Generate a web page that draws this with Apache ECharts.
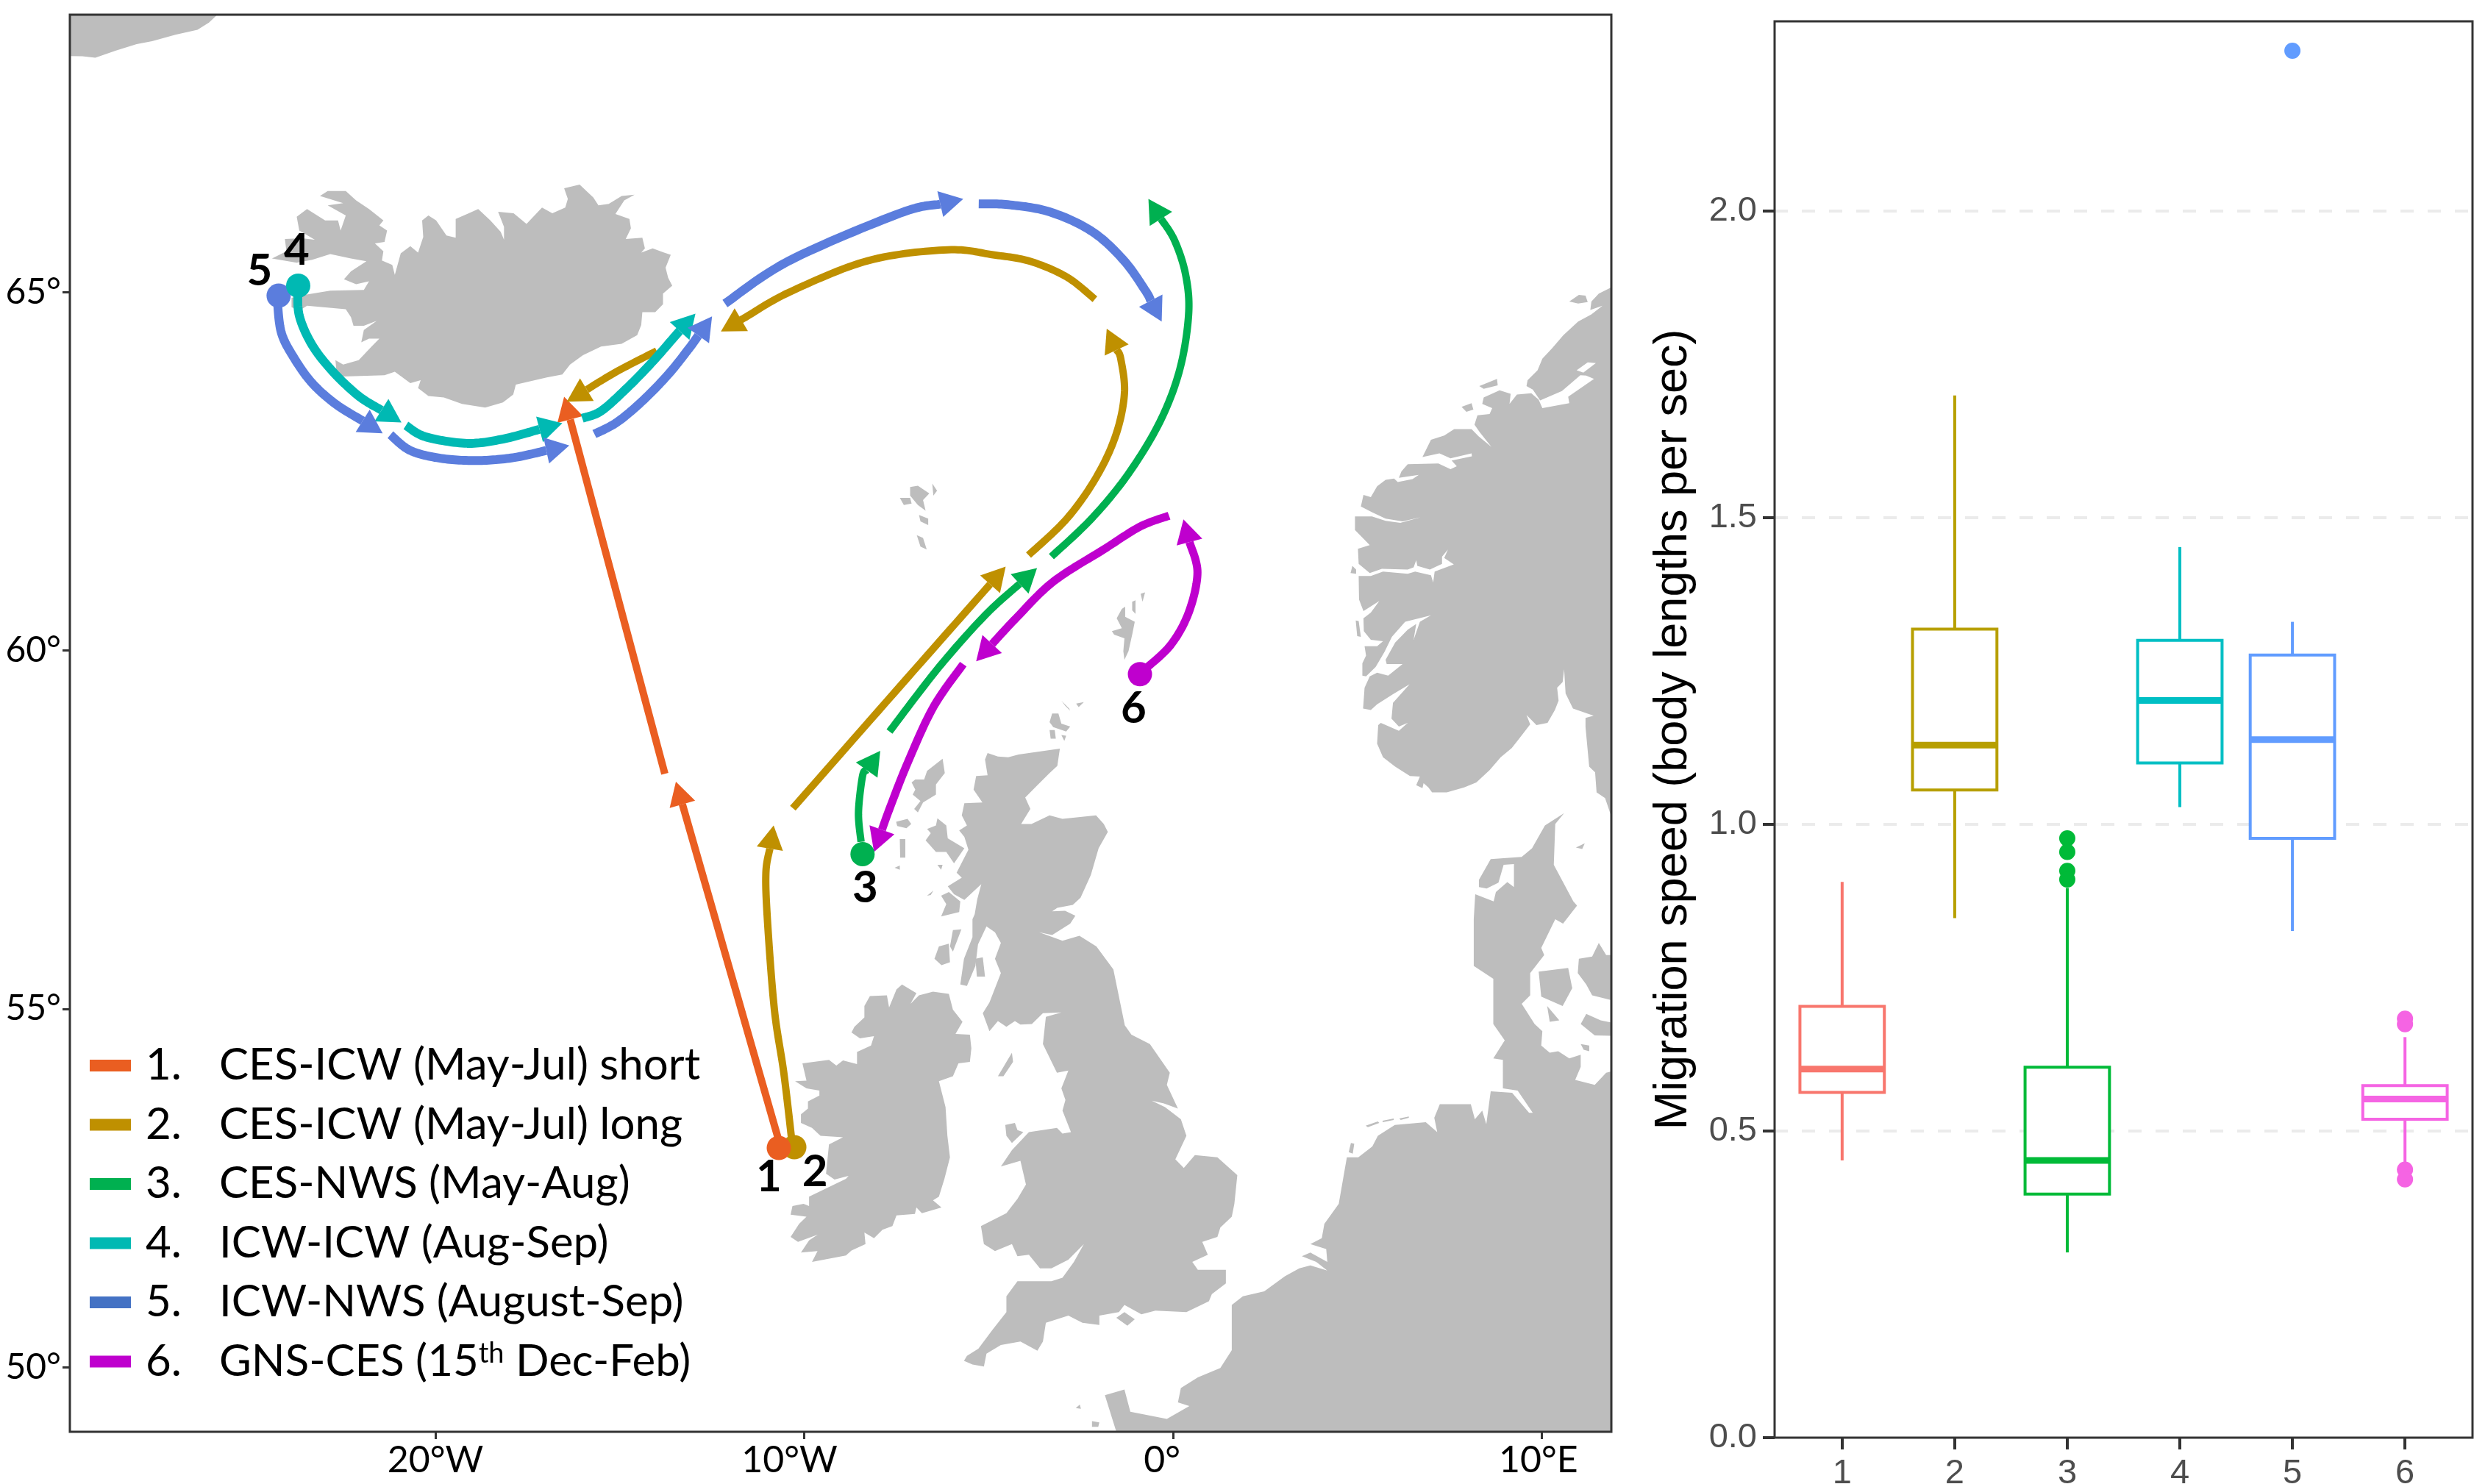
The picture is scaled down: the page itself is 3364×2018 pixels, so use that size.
<!DOCTYPE html>
<html>
<head>
<meta charset="utf-8">
<title>Migration routes and speed</title>
<style>
  html, body { margin: 0; padding: 0; background: #fff; }
  #chart { width: 3364px; height: 2018px; }
</style>
<script src="https://cdn.jsdelivr.net/npm/echarts@6/dist/echarts.min.js"></script>
</head>
<body>
<div id="chart"></div>
<script>
// land outlines, [lon, lat]
const greenland = [[-30.5,68.95],[-25.75,68.95],[-26.14,68.76],[-26.45,68.66],[-27.05,68.59],[-27.68,68.50],[-28.1,68.46],[-28.66,68.37],[-29.22,68.27],[-29.57,68.29],[-30.5,68.30]];
const iceland = [[-23.13,66.34],[-22.92,66.41],[-22.43,66.41],[-22.15,66.28],[-21.80,66.16],[-21.41,66.0],[-21.52,65.93],[-21.31,65.86],[-21.38,65.70],[-21.64,65.68],[-21.41,65.57],[-21.45,65.44],[-21.17,65.38],[-21.10,65.24],[-20.94,65.54],[-20.68,65.64],[-20.47,65.55],[-20.33,65.77],[-20.36,66.0],[-20.19,66.07],[-19.98,66.0],[-19.70,65.79],[-19.45,65.76],[-19.45,66.02],[-19.14,66.09],[-18.84,66.16],[-18.51,66.0],[-18.23,65.84],[-18.14,65.73],[-18.14,65.91],[-18.30,66.12],[-17.88,66.10],[-17.53,65.95],[-17.11,66.18],[-16.83,66.10],[-16.48,66.18],[-16.41,66.30],[-16.51,66.45],[-16.09,66.50],[-15.72,66.32],[-15.58,66.21],[-15.30,66.23],[-14.95,66.34],[-14.60,66.36],[-14.88,66.28],[-15.12,66.09],[-14.74,66.02],[-14.70,65.89],[-14.84,65.74],[-14.39,65.76],[-14.32,65.61],[-14.42,65.55],[-14.11,65.61],[-13.80,65.55],[-13.62,65.52],[-13.76,65.34],[-13.69,65.20],[-13.58,65.09],[-13.83,64.98],[-13.83,64.83],[-14.04,64.72],[-14.39,64.72],[-14.42,64.54],[-14.53,64.40],[-14.95,64.28],[-15.51,64.24],[-16.0,64.12],[-16.35,63.99],[-16.56,63.85],[-16.98,63.81],[-17.82,63.71],[-17.89,63.57],[-18.17,63.46],[-18.65,63.39],[-19.28,63.44],[-19.77,63.53],[-20.19,63.55],[-20.47,63.66],[-20.40,63.77],[-20.68,63.73],[-21.10,63.89],[-21.38,63.84],[-22.67,63.82],[-22.71,64.05],[-22.50,63.99],[-22.08,64.05],[-21.73,64.24],[-21.52,64.35],[-21.80,64.35],[-22.01,64.30],[-21.94,64.47],[-21.59,64.60],[-21.94,64.53],[-22.22,64.53],[-22.29,64.65],[-22.43,64.76],[-23.48,64.81],[-23.69,64.74],[-23.90,64.79],[-23.90,64.92],[-23.55,64.96],[-22.85,65.02],[-21.94,65.03],[-21.80,65.15],[-22.15,65.11],[-22.48,65.18],[-22.29,65.29],[-21.87,65.43],[-22.29,65.47],[-22.85,65.53],[-23.34,65.45],[-23.76,65.41],[-24.43,65.47],[-24.04,65.57],[-24.08,65.74],[-23.62,65.75],[-23.27,65.73],[-23.69,65.86],[-23.76,66.05],[-23.48,66.16],[-22.99,66.0],[-22.64,66.0],[-22.57,65.86],[-22.43,66.07],[-22.92,66.21],[-22.50,66.24]];
const norway = [[12.5,65.2],[11.89,65.07],[11.54,64.98],[11.34,64.87],[11.31,64.75],[11.64,64.81],[11.34,64.69],[10.98,64.59],[10.58,64.40],[10.28,64.22],[10.01,64.07],[9.88,63.91],[9.61,63.77],[9.58,63.69],[9.75,63.64],[9.95,63.49],[10.54,63.62],[11.04,63.84],[11.38,63.83],[10.94,63.91],[11.24,64.02],[11.46,64.01],[11.08,63.86],[11.41,63.79],[10.71,63.54],[10.74,63.45],[10.01,63.38],[9.91,63.50],[9.71,63.59],[9.32,63.57],[9.12,63.44],[9.15,63.58],[8.85,63.63],[8.42,63.53],[8.38,63.44],[8.65,63.38],[8.58,63.30],[8.25,63.28],[8.17,63.15],[8.32,63.04],[8.63,62.84],[8.28,62.99],[8.09,63.09],[7.62,63.09],[7.35,63.0],[6.99,62.94],[6.76,62.70],[7.22,62.75],[7.52,62.68],[8.09,62.75],[8.10,62.71],[7.55,62.65],[7.69,62.57],[7.52,62.53],[7.19,62.61],[6.36,62.60],[6.19,62.50],[6.12,62.41],[6.66,62.45],[6.49,62.39],[6.09,62.35],[5.99,62.40],[5.76,62.38],[5.53,62.29],[5.36,62.14],[5.16,62.17],[5.09,62.01],[5.39,61.93],[5.76,61.84],[6.22,61.80],[6.72,61.86],[6.16,61.78],[5.76,61.81],[5.39,61.87],[4.93,61.87],[4.93,61.68],[5.16,61.56],[5.33,61.47],[5.01,61.42],[5.03,61.21],[5.33,61.08],[5.66,61.14],[6.36,61.13],[6.52,61.16],[6.59,61.26],[6.62,61.18],[6.96,61.13],[7.29,61.21],[7.29,61.31],[7.45,61.41],[7.35,61.29],[7.61,61.20],[7.09,61.10],[7.05,60.95],[6.99,61.05],[6.56,61.10],[6.36,61.07],[5.69,61.10],[5.36,61.04],[5.03,61.04],[5.04,60.71],[5.16,60.55],[5.59,60.69],[5.36,60.53],[5.16,60.45],[5.17,60.27],[5.36,60.15],[5.69,60.13],[5.53,60.06],[5.19,60.06],[5.23,59.93],[5.13,59.82],[5.13,59.65],[5.23,59.64],[5.49,59.77],[5.73,59.98],[5.93,60.19],[6.29,60.40],[6.99,60.49],[6.69,60.40],[6.52,60.15],[6.59,60.37],[6.36,60.29],[6.02,60.11],[5.76,59.87],[5.79,59.81],[6.22,59.81],[5.83,59.65],[5.53,59.69],[5.33,59.64],[5.19,59.48],[5.15,59.19],[5.36,59.17],[5.53,59.25],[5.96,59.39],[6.41,59.53],[5.96,59.27],[5.92,59.05],[6.12,58.94],[6.36,58.99],[6.12,58.88],[5.63,58.99],[5.56,58.96],[5.53,58.70],[5.69,58.51],[6.02,58.38],[6.42,58.25],[6.69,58.24],[6.59,58.12],[6.76,58.08],[6.79,58.15],[6.92,58.09],[7.02,58.02],[7.42,58.02],[7.89,58.09],[8.22,58.16],[8.58,58.33],[8.88,58.51],[9.18,58.64],[9.38,58.77],[9.68,58.97],[9.58,59.10],[9.85,58.96],[10.15,58.99],[10.35,59.17],[10.45,59.30],[10.41,59.48],[10.56,59.56],[10.60,59.74],[10.64,59.40],[10.84,59.19],[11.40,59.09],[11.18,59.06],[11.18,58.93],[11.28,58.38],[11.44,58.30],[11.48,58.02],[11.71,57.94],[11.87,57.70],[12.5,57.5]];
const norwayIslands = [
  [[10.74,64.87],[11.0,64.96],[11.18,64.95],[11.24,64.86],[10.98,64.84]],
  [[8.30,63.69],[8.78,63.79],[8.80,63.70],[8.42,63.65]],
  [[7.82,63.40],[8.09,63.45],[8.14,63.36],[7.95,63.33]],
  [[4.81,61.08],[4.86,61.18],[4.96,61.13],[4.96,61.07]],
  [[4.95,60.42],[5.03,60.41],[5.09,60.19],[4.99,60.20]]
];
const continent = [[-1.54,48.9],[-1.54,49.10],[-1.85,49.61],[-1.32,49.69],[-1.16,49.38],[-0.17,49.28],[0.44,49.46],[0.13,49.51],[0.21,49.71],[0.67,49.86],[1.28,49.99],[1.59,50.24],[1.59,50.87],[1.89,50.99],[2.47,51.06],[3.03,51.27],[3.42,51.38],[3.72,51.42],[4.18,51.35],[3.88,51.47],[3.49,51.55],[3.72,51.60],[4.18,51.47],[4.15,51.65],[3.72,51.72],[4.03,51.80],[4.10,52.0],[4.49,52.28],[4.71,52.93],[5.02,52.93],[5.40,53.08],[5.55,53.23],[6.01,53.38],[6.85,53.42],[7.16,53.28],[7.08,53.48],[7.23,53.67],[8.07,53.67],[8.18,53.46],[8.38,53.58],[8.49,53.39],[8.61,53.85],[9.19,53.83],[9.65,53.55],[9.75,53.55],[9.34,53.86],[8.94,53.89],[8.94,54.29],[8.68,54.31],[8.99,54.56],[8.68,54.79],[8.68,55.42],[8.15,55.60],[8.15,56.25],[8.19,56.60],[8.69,56.50],[8.75,56.63],[9.06,56.77],[9.24,56.70],[9.24,57.02],[8.96,57.01],[8.82,56.76],[8.50,56.68],[8.29,56.70],[8.29,56.80],[8.61,57.09],[9.45,57.12],[9.73,57.24],[10.08,57.56],[10.60,57.73],[10.36,57.58],[10.32,57.01],[10.85,56.50],[10.95,56.44],[10.57,56.19],[10.36,56.25],[9.98,55.85],[10.06,55.75],[9.68,55.50],[9.68,55.19],[9.45,55.07],[9.80,54.79],[10.01,54.69],[9.98,54.49],[10.21,54.39],[10.44,54.41],[10.74,54.31],[11.05,54.36],[11.05,54.19],[10.90,54.01],[11.43,53.94],[11.74,54.11],[12.5,54.2],[12.5,48.9]];
const balticIslands = [
  [[9.91,55.52],[10.71,55.57],[10.82,55.29],[10.56,55.04],[9.98,55.17]],
  [[11.0,55.70],[11.36,55.73],[11.54,55.92],[11.74,55.75],[12.5,55.75],[12.5,55.04],[11.36,55.19],[11.2,55.34],[10.97,55.50]],
  [[11.05,54.79],[11.2,54.93],[11.59,54.84],[12.5,54.74],[12.5,54.62],[11.43,54.63]],
  [[11.05,54.51],[11.28,54.49],[11.28,54.41],[11.13,54.43]],
  [[10.14,55.04],[10.47,54.84],[10.21,54.82]],
  [[10.92,57.25],[11.16,57.31],[11.09,57.23]]
];
const frisianIslands = [
  [[5.22,53.37],[5.55,53.43],[5.59,53.41],[5.28,53.35]],
  [[5.68,53.44],[5.98,53.47],[5.98,53.45],[5.68,53.42]],
  [[6.13,53.47],[6.39,53.50],[6.39,53.48],[6.17,53.45]],
  [[4.76,53.0],[4.82,53.13],[4.91,53.12],[4.87,52.98]]
];
const britain = [[-5.03,58.57],[-4.75,58.52],[-4.47,58.51],[-4.19,58.55],[-3.07,58.63],[-3.14,58.39],[-3.35,58.29],[-3.70,58.11],[-4.01,57.95],[-3.87,57.79],[-4.12,57.58],[-3.84,57.58],[-3.35,57.70],[-3.0,57.65],[-2.09,57.70],[-1.88,57.58],[-1.77,57.47],[-2.02,57.24],[-2.23,56.87],[-2.51,56.55],[-2.72,56.45],[-3.14,56.41],[-3.28,56.36],[-2.93,56.37],[-2.65,56.30],[-2.79,56.19],[-3.28,56.03],[-3.63,56.07],[-3.0,55.95],[-2.54,56.02],[-2.08,55.87],[-1.62,55.55],[-1.31,54.77],[-1.13,54.64],[-0.63,54.51],[-0.09,54.11],[-0.17,53.94],[0.13,53.61],[-0.25,53.68],[-0.58,53.72],[-0.22,53.63],[0.21,53.46],[0.36,53.23],[0.06,52.90],[0.29,52.78],[0.59,52.96],[1.20,52.93],[1.74,52.68],[1.66,52.28],[1.59,52.10],[1.28,51.95],[1.20,51.82],[0.79,51.75],[0.94,51.57],[0.52,51.47],[0.67,51.36],[1.43,51.36],[1.43,51.17],[1.05,51.02],[0.97,50.92],[0.36,50.77],[-0.48,50.79],[-0.86,50.74],[-1.32,50.87],[-1.47,50.77],[-2.0,50.72],[-2.0,50.59],[-2.46,50.62],[-2.84,50.72],[-3.45,50.62],[-3.53,50.36],[-3.68,50.23],[-4.14,50.36],[-4.67,50.31],[-5.06,50.19],[-5.13,50.01],[-5.44,50.04],[-5.67,50.09],[-5.59,50.16],[-5.28,50.26],[-4.90,50.52],[-4.52,50.77],[-4.52,50.99],[-4.22,51.20],[-3.30,51.20],[-3.0,51.25],[-2.69,51.47],[-2.42,51.72],[-2.84,51.50],[-3.30,51.38],[-3.61,51.38],[-3.91,51.57],[-4.22,51.55],[-4.37,51.72],[-4.83,51.62],[-5.13,51.72],[-5.21,51.97],[-4.52,52.15],[-4.22,52.35],[-3.99,52.55],[-4.14,52.88],[-4.67,52.80],[-4.37,53.03],[-3.91,53.28],[-3.15,53.34],[-3.0,53.26],[-2.77,53.28],[-3.0,53.58],[-2.92,53.73],[-3.03,53.89],[-2.84,54.14],[-3.15,54.11],[-3.53,54.51],[-3.45,54.89],[-3.03,54.95],[-3.53,54.94],[-3.83,54.79],[-4.14,54.78],[-4.29,54.83],[-4.52,54.75],[-4.75,54.83],[-4.98,54.69],[-5.16,54.94],[-4.98,55.09],[-4.67,55.50],[-4.83,55.70],[-4.67,55.92],[-4.83,56.07],[-5.06,56.15],[-5.29,55.90],[-5.36,55.60],[-5.59,55.32],[-5.77,55.34],[-5.67,55.70],[-5.44,56.0],[-5.44,56.25],[-5.38,56.32],[-5.31,56.53],[-5.20,56.74],[-5.66,56.52],[-5.94,56.60],[-6.11,56.71],[-5.73,56.83],[-5.87,56.90],[-5.55,57.22],[-5.66,57.40],[-5.80,57.49],[-5.59,57.56],[-5.73,57.70],[-5.66,57.87],[-5.17,57.88],[-5.41,58.06],[-5.34,58.25],[-5.03,58.26],[-5.10,58.48]];
const ireland = [[-7.35,55.34],[-6.96,55.22],[-7.12,55.07],[-6.89,55.19],[-6.51,55.24],[-6.08,55.21],[-5.97,54.99],[-5.71,54.82],[-5.90,54.65],[-5.51,54.64],[-5.47,54.45],[-5.51,54.26],[-5.82,54.24],[-5.97,54.06],[-6.35,53.99],[-6.17,53.63],[-6.12,53.23],[-6.05,52.93],[-6.20,52.63],[-6.35,52.38],[-6.51,52.33],[-6.28,52.23],[-6.81,52.15],[-6.96,52.23],[-7.0,52.14],[-7.50,52.12],[-7.61,51.97],[-7.88,51.92],[-8.11,51.80],[-8.37,51.88],[-8.34,51.72],[-8.72,51.63],[-8.87,51.56],[-9.79,51.47],[-9.64,51.62],[-10.09,51.60],[-9.87,51.77],[-9.64,51.85],[-10.17,51.75],[-10.37,51.82],[-10.14,52.0],[-9.94,52.10],[-10.37,52.13],[-10.32,52.25],[-10.02,52.28],[-9.87,52.25],[-9.87,52.38],[-8.87,52.63],[-8.80,52.67],[-9.18,52.62],[-9.41,52.70],[-9.33,53.11],[-8.95,53.21],[-9.56,53.23],[-9.79,53.34],[-10.09,53.41],[-10.09,53.53],[-9.90,53.61],[-9.90,53.71],[-9.59,53.79],[-9.59,53.86],[-9.94,53.89],[-10.25,53.99],[-9.94,54.0],[-10.05,54.24],[-9.33,54.29],[-9.13,54.21],[-8.95,54.28],[-8.57,54.23],[-8.57,54.40],[-8.19,54.49],[-8.11,54.62],[-8.49,54.59],[-8.72,54.67],[-8.64,54.75],[-8.37,54.88],[-8.37,55.04],[-8.22,55.18],[-7.76,55.19],[-7.70,55.02],[-7.50,55.27]];
const hebrides = [
  [[-6.25,58.49],[-6.19,58.29],[-6.43,58.13],[-6.43,57.99],[-6.78,57.88],[-6.92,57.74],[-7.02,57.79],[-6.85,57.90],[-7.06,57.99],[-6.99,58.06],[-7.09,58.16],[-6.99,58.20],[-6.75,58.20],[-6.67,58.32]],
  [[-6.39,57.66],[-6.15,57.56],[-6.11,57.38],[-5.66,57.24],[-5.94,57.03],[-6.15,57.19],[-6.43,57.19],[-6.71,57.35],[-6.57,57.45],[-6.67,57.51],[-6.43,57.56]],
  [[-7.51,57.61],[-7.20,57.65],[-7.10,57.58],[-7.23,57.52],[-7.48,57.55]],
  [[-7.41,57.37],[-7.26,57.37],[-7.26,57.11],[-7.40,57.11]],
  [[-7.55,56.97],[-7.41,57.0],[-7.41,56.94]],
  [[-6.39,57.01],[-6.25,57.01],[-6.29,56.94]],
  [[-6.29,56.58],[-6.08,56.63],[-5.77,56.50],[-5.80,56.35],[-6.29,56.29],[-6.15,56.46]],
  [[-6.67,56.58],[-6.50,56.65],[-6.57,56.59]],
  [[-6.47,55.70],[-6.35,55.87],[-6.08,55.91],[-6.05,55.65],[-6.28,55.61]],
  [[-5.97,56.10],[-5.74,56.11],[-5.97,55.80],[-6.05,55.87]],
  [[-5.36,55.70],[-5.16,55.72],[-5.10,55.45],[-5.32,55.45]]
];
const northernIsles = [
  [[-3.35,59.0],[-3.28,59.12],[-3.11,59.12],[-3.03,58.98],[-2.79,58.94],[-2.90,58.87],[-3.25,58.93]],
  [[-3.35,58.89],[-3.21,58.89],[-3.18,58.77],[-3.32,58.77]],
  [[-3.03,58.82],[-2.90,58.81],[-2.95,58.74]],
  [[-3.03,59.30],[-2.82,59.19],[-2.79,59.16],[-2.93,59.23]],
  [[-2.63,59.26],[-2.42,59.28],[-2.56,59.21]],
  [[-1.39,60.58],[-1.30,60.61],[-1.30,60.47],[-1.04,60.40],[-1.11,60.22],[-1.21,59.99],[-1.32,59.87],[-1.35,59.99],[-1.32,60.17],[-1.60,60.22],[-1.66,60.27],[-1.39,60.31],[-1.53,60.45]],
  [[-1.11,60.68],[-1.02,60.70],[-1.02,60.51],[-1.11,60.56]],
  [[-0.88,60.79],[-0.76,60.81],[-0.83,60.68]]
];
const faroes = [
  [[-7.13,62.28],[-6.92,62.30],[-6.61,62.19],[-6.78,62.10],[-6.71,61.95],[-6.92,62.03],[-7.13,62.16]],
  [[-6.53,62.33],[-6.40,62.23],[-6.50,62.16]],
  [[-7.41,62.13],[-7.13,62.13],[-7.09,62.05],[-7.30,62.03]],
  [[-6.89,61.89],[-6.64,61.84],[-6.64,61.75],[-6.85,61.80]],
  [[-6.95,61.61],[-6.78,61.57],[-6.68,61.41],[-6.85,61.45]]
];
const smallIslands = [
  [[-4.75,54.06],[-4.37,54.39],[-4.34,54.26],[-4.60,54.06]],
  [[-4.55,53.38],[-4.29,53.41],[-4.22,53.31],[-4.06,53.28],[-4.37,53.13],[-4.52,53.23]],
  [[-1.54,50.69],[-1.32,50.77],[-1.04,50.67],[-1.24,50.58]],
  [[-2.64,49.43],[-2.53,49.48],[-2.50,49.42]],
  [[-2.2,49.25],[-2.0,49.23],[-2.03,49.17],[-2.2,49.17]]
];

// migration routes, each leg ends at its arrow tip, [lon, lat]
const route1 = [
  [[-10.70,53.18],[-13.48,58.17]],
  [[-13.78,58.28],[-16.51,63.54]]
];
const route2 = [
  [[-10.32,53.08],[-10.55,54.09],[-10.81,54.99],[-11.0,56.25],[-11.04,56.9],[-10.83,57.56]],
  [[-10.31,57.80],[-7.2,59.62],[-4.54,61.17]],
  [[-3.92,61.33],[-2.88,61.84],[-2.08,62.42],[-1.55,63.01],[-1.32,63.59],[-1.42,64.07],[-1.80,64.49]],
  [[-2.12,64.90],[-2.88,65.21],[-3.88,65.43],[-4.88,65.52],[-6.12,65.59],[-8.26,65.44],[-10.40,65.0],[-11.59,64.65],[-12.26,64.45]],
  [[-14.0,64.18],[-15.09,63.89],[-16.44,63.47]]
];
const route3 = [
  [[-8.46,57.33],[-8.53,57.74],[-8.42,58.25],[-7.94,58.60]],
  [[-7.69,58.87],[-6.36,59.76],[-5.10,60.49],[-4.26,60.93],[-3.69,61.15]],
  [[-3.30,61.31],[-2.21,61.84],[-1.22,62.46],[-0.36,63.19],[0.18,63.92],[0.42,64.69],[0.34,65.24],[0.04,65.72],[-0.67,66.30]]
];
const route4 = [
  [[-23.73,65.04],[-23.69,64.67],[-23.34,64.26],[-22.78,63.89],[-22.08,63.55],[-21.38,63.29],[-20.92,63.18]],
  [[-20.80,63.14],[-20.26,62.98],[-19.14,62.89],[-18.17,62.95],[-17.26,63.05],[-16.56,63.17]],
  [[-16.02,63.24],[-15.51,63.34],[-14.81,63.66],[-14.11,64.03],[-13.48,64.40],[-12.95,64.70]]
];
const route5 = [
  [[-24.29,64.92],[-24.18,64.44],[-23.83,64.08],[-23.34,63.73],[-22.71,63.44],[-22.08,63.21],[-21.43,63.03]],
  [[-21.22,63.01],[-20.68,62.79],[-19.84,62.68],[-18.86,62.65],[-17.89,62.69],[-16.91,62.77],[-16.37,62.86]],
  [[-15.69,63.02],[-15.09,63.18],[-14.39,63.48],[-13.69,63.85],[-13.13,64.21],[-12.50,64.66]],
  [[-12.15,64.84],[-10.40,65.44],[-7.41,66.1],[-5.69,66.30]],
  [[-5.27,66.23],[-4.48,66.22],[-3.35,66.12],[-2.21,65.85],[-1.35,65.45],[-0.75,65.02],[-0.31,64.59]]
];
const route6 = [
  [[-0.76,59.74],[-0.06,60.08],[0.43,60.54],[0.66,61.09],[0.57,61.50],[0.28,61.83]],
  [[-0.11,61.88],[-0.89,61.73],[-1.88,61.41],[-3.25,60.96],[-4.26,60.45],[-5.34,59.85]],
  [[-5.69,59.81],[-6.50,59.21],[-7.20,58.43],[-7.69,57.79],[-8.11,57.19]]
];

const routeNames = ['CES-ICW (May-Jul) short', 'CES-ICW (May-Jul) long', 'CES-NWS (May-Aug)', 'ICW-ICW (Aug-Sep)', 'ICW-NWS (August-Sep)', 'GNS-CES (15th Dec-Feb)'];
const routeLegs = [route1, route2, route3, route4, route5, route6];
const routeColors = ['#EA5E21', '#BF9000', '#00B050', '#00B9B3', '#5B7DDD', '#BF00CE'];
const routeWidths = [10, 10, 10, 12, 12, 11];
const legendColors = ['#EA5E21', '#BF9000', '#00B050', '#00B9B3', '#4472C4', '#BF00CE'];

// start points, drawn in this order
const startNames = ['2', '1', '5', '4', '3', '6'];
const startPoints = [[-10.27,53.07], [-10.69,53.06], [-24.25,64.95], [-23.72,65.09], [-8.42,57.16], [-0.90,59.67]];
const startColors = ['#BF9000', '#EA5E21', '#5B7DDD', '#00B9B3', '#00B050', '#BF00CE'];
const labelPoints = [[-9.71,52.73], [-10.96,52.65], [-24.77,65.29], [-23.76,65.58], [-8.35,56.69], [-1.07,59.19]];

const lonTicks = [-20, -10, 0, 10];
const latTicks = [50, 55, 60, 65];

// box plot
const speedCategories = [1, 2, 3, 4, 5, 6];
const speedLow = [0.452, 0.847, 0.302, 1.028, 0.826, 0.445];
const speedQ1 = [0.563, 1.056, 0.397, 1.100, 0.977, 0.519];
const speedMedian = [0.601, 1.129, 0.452, 1.202, 1.138, 0.552];
const speedQ3 = [0.703, 1.318, 0.604, 1.300, 1.276, 0.574];
const speedHigh = [0.906, 1.699, 0.896, 1.452, 1.330, 0.653];
const speedOutliers = [[3,0.977],[3,0.955],[3,0.924],[3,0.910],[5,2.261],[6,0.683],[6,0.674],[6,0.437],[6,0.421]];
const speedColors = ['#F8766D', '#B79F00', '#00BA38', '#00BFC4', '#619CFF', '#F564E3'];
const speedTicks = [0, 0.5, 1, 1.5, 2];

const landPolygons = [greenland, iceland, norway, continent, britain, ireland]
  .concat(norwayIslands, balticIslands, frisianIslands, hebrides, northernIsles, faroes, smallIslands);

const chart = echarts.init(document.getElementById('chart'), null, { renderer: 'canvas' });

function renderLand(params, api) {
  const poly = landPolygons[params.dataIndex];
  return {
    type: 'polygon',
    shape: { points: poly.map(p => api.coord(p)) },
    style: { fill: '#BDBDBD' }
  };
}

// curve through the pixel waypoints of a leg
function spline(pts) {
  const out = [];
  for (let i = 0; i < pts.length - 1; i++) {
    const p0 = pts[Math.max(i - 1, 0)], p1 = pts[i], p2 = pts[i + 1], p3 = pts[Math.min(i + 2, pts.length - 1)];
    for (let k = 0; k < 16; k++) {
      const t = k / 16, t2 = t * t, t3 = t2 * t;
      out.push([0, 1].map(d => 0.5 * (2 * p1[d] + (p2[d] - p0[d]) * t + (2 * p0[d] - 5 * p1[d] + 4 * p2[d] - p3[d]) * t2 + (3 * p1[d] - p0[d] - 3 * p2[d] + p3[d]) * t3)));
    }
  }
  out.push(pts[pts.length - 1]);
  return out;
}

function routeRenderer(legs, color, width) {
  const headLen = 32, headHalf = 18;
  return function (params, api) {
    const pts = legs[params.dataIndex].map(p => api.coord(p));
    const tip = pts[pts.length - 1];
    // waypoints too close to the tip would end up inside the head
    const body = pts.slice(0, -1).filter((p, i) => i === 0 || Math.hypot(p[0] - tip[0], p[1] - tip[1]) > headLen * 1.2);
    const prev = body[body.length - 1];
    const len = Math.hypot(tip[0] - prev[0], tip[1] - prev[1]);
    const ux = (tip[0] - prev[0]) / len, uy = (tip[1] - prev[1]) / len;
    const bx = tip[0] - ux * headLen, by = tip[1] - uy * headLen;
    return {
      type: 'group',
      children: [
        {
          type: 'polyline',
          shape: { points: spline(body.concat([[bx, by]])) },
          style: { stroke: color, lineWidth: width, fill: null, lineJoin: 'round' }
        },
        {
          type: 'polygon',
          shape: { points: [tip, [bx - uy * headHalf, by + ux * headHalf], [bx + uy * headHalf, by - ux * headHalf]] },
          style: { fill: color }
        }
      ]
    };
  };
}

function renderBox(params, api) {
  const i = params.dataIndex;
  const x = speedCategories[i];
  const color = speedColors[i];
  const w = api.size([0.75, 0])[0];
  const cx = api.coord([x, 0])[0];
  const y = v => api.coord([x, v])[1];
  const line = (x1, y1, x2, y2, lw) => ({
    type: 'line',
    shape: { x1: x1, y1: y1, x2: x2, y2: y2 },
    style: { stroke: color, lineWidth: lw }
  });
  return {
    type: 'group',
    children: [
      line(cx, y(speedHigh[i]), cx, y(speedQ3[i]), 4),
      line(cx, y(speedQ1[i]), cx, y(speedLow[i]), 4),
      {
        type: 'rect',
        shape: { x: cx - w / 2, y: y(speedQ3[i]), width: w, height: y(speedQ1[i]) - y(speedQ3[i]) },
        style: { fill: '#fff', stroke: color, lineWidth: 4 }
      },
      line(cx - w / 2, y(speedMedian[i]), cx + w / 2, y(speedMedian[i]), 9)
    ]
  };
}

const lonLabel = v => {
  if (v === 0) return '{b|0°}';
  if (v === -10) return '{a|10°W}';
  if (v === 10) return '{c|10°E}';
  return '{d|20°W}';
};

const mapFont = 'Lato';
const mapLabel = { fontFamily: mapFont, fontSize: 50, color: '#000' };

const routeSeries = routeNames.map((name, r) => ({
  type: 'custom',
  name: name,
  xAxisIndex: 0,
  yAxisIndex: 0,
  clip: true,
  z: 5,
  itemStyle: { color: legendColors[r] },
  data: routeLegs[r].map((leg, i) => [i]),
  renderItem: routeRenderer(routeLegs[r], routeColors[r], routeWidths[r])
}));

chart.setOption({
  animation: false,
  backgroundColor: '#fff',
  grid: [
    { left: 95, top: 20, width: 2096, height: 1927, outerBoundsMode: 'none', show: true, borderColor: '#333', borderWidth: 3, backgroundColor: 'transparent', z: 4 },
    { left: 2413, top: 29, width: 949, height: 1926, outerBoundsMode: 'none', show: true, borderColor: '#333', borderWidth: 3, backgroundColor: 'transparent', z: 4 }
  ],
  xAxis: [
    {
      type: 'value', gridIndex: 0, min: -29.91, max: 11.88,
      splitLine: { show: false },
      axisLine: { show: false, onZero: false },
      axisTick: { show: true, length: 10, lineStyle: { color: '#333', width: 3 }, customValues: lonTicks },
      axisLabel: {
        customValues: lonTicks, margin: 14, formatter: lonLabel, ...mapLabel,
        rich: {
          a: { ...mapLabel, padding: [0, 40, 0, 0] },
          b: { ...mapLabel, padding: [0, 30, 0, 0] },
          c: { ...mapLabel, padding: [0, 10, 0, 0] },
          d: { ...mapLabel }
        }
      }
    },
    {
      type: 'value', gridIndex: 1, min: 0.4, max: 6.6,
      splitLine: { show: false },
      axisLine: { show: false, onZero: false },
      axisTick: { show: true, length: 16, lineStyle: { color: '#333', width: 4 }, customValues: speedCategories },
      axisLabel: { customValues: speedCategories, margin: 26, fontFamily: 'Liberation Sans', fontSize: 47, color: '#4D4D4D' }
    }
  ],
  yAxis: [
    {
      type: 'value', gridIndex: 0, min: 49.10, max: 68.87,
      splitLine: { show: false },
      axisLine: { show: false, onZero: false },
      axisTick: { show: true, length: 10, lineStyle: { color: '#333', width: 3 }, customValues: latTicks },
      axisLabel: { customValues: latTicks, margin: 12, formatter: v => v + '°', ...mapLabel, fontSize: 48 }
    },
    {
      type: 'value', gridIndex: 1, min: 0, max: 2.309,
      name: 'Migration speed (body lengths per sec)',
      nameLocation: 'middle', nameRotate: 90, nameGap: 106,
      nameTextStyle: { fontFamily: 'Liberation Sans', fontSize: 63, color: '#000' },
      axisLine: { show: false, onZero: false },
      axisTick: { show: true, length: 16, lineStyle: { color: '#333', width: 4 }, customValues: speedTicks },
      axisLabel: { customValues: speedTicks, margin: 24, fontFamily: 'Liberation Sans', fontSize: 47, color: '#4D4D4D', formatter: v => v.toFixed(1) },
      splitLine: { show: true, showMinLine: false, lineStyle: { color: '#EBEBEB', width: 4, type: [18, 19] } }
    }
  ],
  legend: {
    orient: 'vertical', left: 122, top: 1419, padding: 0,
    itemWidth: 56, itemHeight: 16, itemGap: 20.5, selectedMode: false,
    icon: 'rect',
    data: routeNames,
    formatter: name => {
      const n = '{n|' + (routeNames.indexOf(name) + 1) + '.}';
      if (name.indexOf('15th') >= 0) return n + '{t|GNS-CES (15}{s|th}{t| Dec-Feb)}';
      return n + '{t|' + name + '}';
    },
    textStyle: {
      fontFamily: mapFont, fontSize: 60, color: '#000', lineHeight: 60,
      rich: {
        n: { fontFamily: mapFont, fontSize: 60, color: '#000', lineHeight: 60, width: 100, padding: [0, 0, 0, 15] },
        t: { fontFamily: mapFont, fontSize: 60, color: '#000', lineHeight: 60 },
        s: { fontFamily: mapFont, fontSize: 38, color: '#000', lineHeight: 60, verticalAlign: 'top', padding: [0, 0, 16, 0] }
      }
    }
  },
  series: [
    {
      type: 'custom', name: 'land', xAxisIndex: 0, yAxisIndex: 0, clip: true, z: 2,
      silent: true,
      data: landPolygons.map((p, i) => [i]),
      renderItem: renderLand
    },
    ...routeSeries,
    {
      type: 'scatter', name: 'start', xAxisIndex: 0, yAxisIndex: 0, z: 6, symbolSize: 33,
      data: startPoints.map((p, i) => ({ value: p, itemStyle: { color: startColors[i], opacity: 1 } }))
    },
    {
      type: 'scatter', name: 'numbers', xAxisIndex: 0, yAxisIndex: 0, z: 7, symbolSize: 1,
      itemStyle: { color: 'rgba(0,0,0,0)', opacity: 1 },
      label: { show: true, position: 'inside', formatter: '{b}', fontFamily: mapFont, fontWeight: 'bold', fontSize: 60, color: '#000' },
      data: labelPoints.map((p, i) => ({ name: startNames[i], value: p }))
    },
    {
      type: 'custom', name: 'speed', xAxisIndex: 1, yAxisIndex: 1, z: 5,
      data: speedCategories.map(c => [c]),
      renderItem: renderBox
    },
    {
      type: 'scatter', name: 'outliers', xAxisIndex: 1, yAxisIndex: 1, z: 6, symbolSize: 22,
      data: speedOutliers.map(p => ({ value: p, itemStyle: { color: speedColors[p[0] - 1], opacity: 1 } }))
    }
  ]
});
</script>
</body>
</html>
